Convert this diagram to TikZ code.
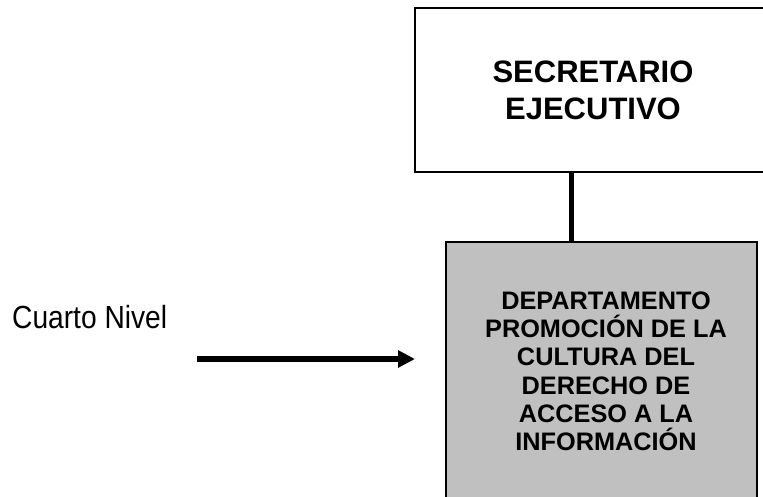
\documentclass[tikz,border=0pt]{standalone}
\usepackage{fontspec}
\setmainfont{Liberation Sans}
\newfontfamily\narrowfont[FakeStretch=0.88]{Liberation Sans}
\usetikzlibrary{arrows.meta}
\definecolor{deptgray}{HTML}{C0C0C0}
\tikzset{
  orgbox/.style={draw=black, line width=1.6pt, inner sep=0pt, align=center,
    font=\bfseries},
  link/.style={line width=5pt},
  pointer/.style={line width=5.5pt, -{Triangle[length=17pt,width=16.5pt]}}
}
\begin{document}
\begin{tikzpicture}[x=1pt,y=-1pt]
  \useasboundingbox (0,0) rectangle (763,497);
  % top box (runs past the right edge)
  \node[orgbox, minimum width=356pt, minimum height=164pt,
        font=\bfseries\fontsize{31}{37}\selectfont] (sec) at (593,90)
        {SECRETARIO\\EJECUTIVO};
  % department box (runs past the bottom edge)
  \node[orgbox, fill=deptgray, minimum width=311pt, minimum height=263pt] (dept) at (601.5,373.5) {};
  \node[align=center, inner sep=0pt, font=\bfseries\fontsize{25.3}{28.3}\selectfont,
        anchor=base] (depttext) at (606,450.7)
        {DEPARTAMENTO\\PROMOCIÓN DE LA\\CULTURA DEL\\DERECHO DE\\ACCESO A LA\\INFORMACIÓN};
  % vertical link between the two boxes
  \coordinate (linkx) at (571,0);
  \draw[link] (sec.south -| linkx) -- (dept.north -| linkx);
  % level label and its arrow
  \node[anchor=base west, inner sep=0pt, font=\narrowfont\fontsize{32}{38}\selectfont] (level) at (12,328) {Cuarto Nivel};
  \coordinate (arrowstart) at (197,359);
  \coordinate (arrowtip) at (415,359);
  \draw[pointer] (arrowstart) -- (arrowtip);
\end{tikzpicture}
\end{document}
